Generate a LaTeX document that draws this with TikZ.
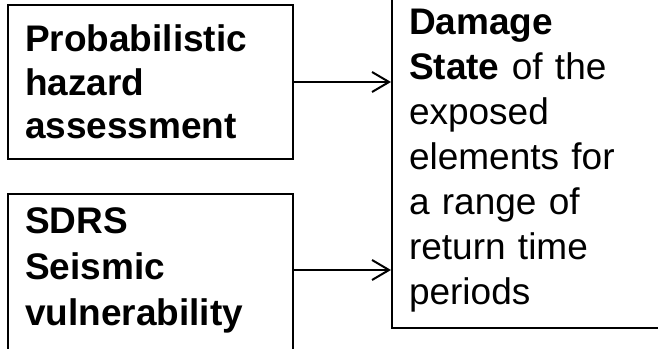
\documentclass[tikz,border=0pt]{standalone}
\usepackage{fontspec}
\setmainfont{Liberation Sans}
\usetikzlibrary{positioning,arrows.meta}
\tikzstyle{tips}=[%
	 otip/.tip = {Straight Barb[length=17pt, width=20pt]},
	 -otip]

\begin{document}
\begin{tikzpicture}[x=1pt, y=1pt, line width=2pt]
			\def\padx{17pt}
			\tikzstyle{boite}=[draw, line width=2pt, align=left, inner xsep=\padx]
			\useasboundingbox (0,0) rectangle (658,348);
			\node[boite, anchor=north west, minimum width=285pt, minimum height=154pt, text width=251pt, font=\fontsize{37}{43.5}\selectfont\bfseries] (hazard) at (7,344) {Probabilistic\\hazard\\assessment};
			\node[boite, anchor=north west, inner ysep=13.5pt, text width=251pt, text depth=120pt, font=\fontsize{37}{46}\selectfont\bfseries] (vuln) at (7,155) {SDRS\\Seismic\\vulnerability};
			\node[boite, anchor=south west, inner ysep=16pt, text width=260pt, font=\fontsize{37}{45}\selectfont] (damage) at (391,19) {\textbf{Damage}\\\textbf{State} of the\\exposed\\elements for\\a range of\\return time\\periods};
			\coordinate (in2) at ([yshift=-77pt]vuln.north east);
			\draw[tips] (hazard.east) -- (hazard.east -| damage.west);
			\draw[tips] (in2) -- (in2 -| damage.west);
		\end{tikzpicture}
\end{document}
